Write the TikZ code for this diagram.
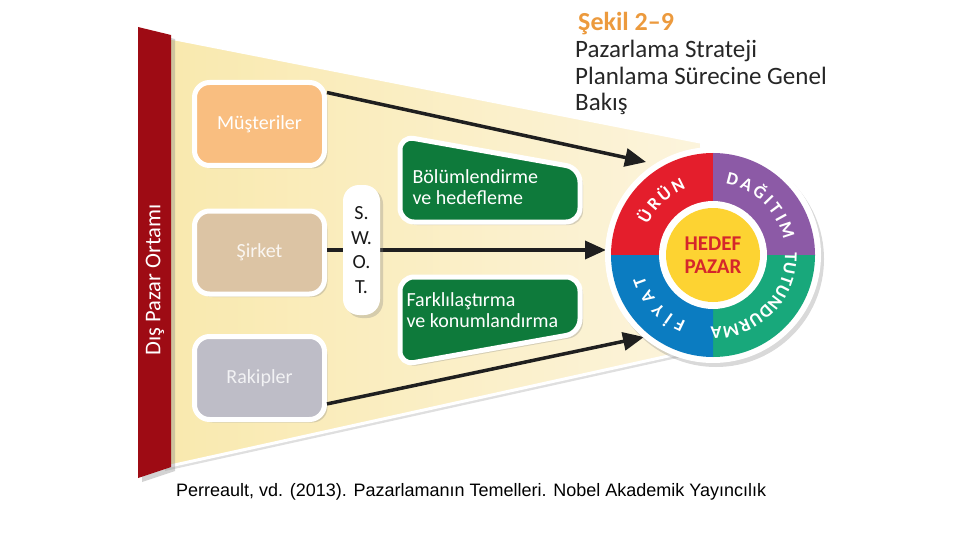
\documentclass[tikz,border=0pt]{standalone}
\usepackage{fontspec}
\setmainfont{Carlito}
\newfontfamily\capfont{Liberation Sans}
\usetikzlibrary{arrows.meta,shadows,decorations.text,positioning}

\definecolor{barred}{HTML}{9E0B14}
\definecolor{funnelL}{HTML}{F9E9AE}
\definecolor{funnelR}{HTML}{FCF4DC}
\definecolor{mustericol}{HTML}{F9BE80}
\definecolor{sirketcol}{HTML}{DCC4A4}
\definecolor{rakipcol}{HTML}{BEBDC7}
\definecolor{greenbox}{HTML}{0E7A3B}
\definecolor{urunred}{HTML}{E41E2C}
\definecolor{dagitimpurple}{HTML}{8C5AA6}
\definecolor{tutungreen}{HTML}{18A87B}
\definecolor{fiyatblue}{HTML}{0B7CC1}
\definecolor{hedefyellow}{HTML}{FDD332}
\definecolor{hedefred}{HTML}{D5262B}
\definecolor{sekilorange}{HTML}{EC9A3D}

\tikzset{
  softshadow/.style={drop shadow={shadow xshift=3pt, shadow yshift=-3pt, opacity=.3}},
  srcbox/.style={draw=white, line width=5pt, rounded corners=15pt, minimum width=130pt,
    minimum height=83pt, softshadow, font=\fontsize{20}{22}\selectfont},
  stratbox/.style={fill=greenbox, draw=white, line width=5pt, rounded corners=14pt, softshadow},
  strattext/.style={text=white, align=left, anchor=west, font=\fontsize{20}{21.5}\selectfont},
  arr/.style={line width=3.5pt, draw=black!88, -{Triangle[length=21pt,width=18pt]}},
  ringtext/.style={decorate, decoration={text along path, text align=fit to path,
    text color=white, text={|\fontsize{18}{18}\selectfont\bfseries|#1}}},
}

\begin{document}
\begin{tikzpicture}[x=1pt, y=-1pt]
\useasboundingbox (0,0) rectangle (960,540);

% funnel
\shade[left color=funnelL, right color=funnelR, drop shadow={shadow xshift=0pt, shadow yshift=-5pt, opacity=.25}]
  (165,38) -- (700,143) -- (700,348) -- (165,466) -- cycle;
\draw[white, line width=3pt] (170,38) -- (700,142);
\draw[white, line width=3pt] (170,466) -- (700,349);

% outer environment bar
\fill[barred, drop shadow={shadow xshift=4pt, shadow yshift=-4pt, opacity=.35}]
  (138,27) -- (171,35) -- (171,467) -- (138,478) -- cycle;
\node[rotate=90, text=white, font=\fontsize{22.5}{24}\selectfont] (dis) at (155,280) {Dış Pazar Ortamı};

% title
\node[anchor=base west, inner sep=0pt, text=sekilorange, font=\bfseries\fontsize{26}{28}\selectfont] (sekil) at (578,31) {Şekil 2–9};
\node[anchor=north west, align=left, text=black!85, inner sep=0pt, font=\fontsize{25}{26.5}\selectfont]
  (baslik) at (575,40) {Pazarlama Strateji\\Planlama Sürecine Genel\\Bakış};

% sources
\node[srcbox, fill=mustericol, text=white] (musteri) at (259.5,124) {Müşteriler};
\node[srcbox, fill=sirketcol, text=white!85!sirketcol] (sirket) at (259.5,252.5) {Şirket};
\node[srcbox, fill=rakipcol, text=white!80!rakipcol] (rakip) at (259.5,378) {Rakipler};

\coordinate (hedefust) at (646,162);
\coordinate (hedeforta) at (606,250);
\coordinate (hedefalt) at (644,337);
\draw[arr] (musteri.25) -- (hedefust);
\draw[arr] (sirket.east |- hedeforta) -- (hedeforta);
\draw[arr] (rakip.-21) -- (hedefalt);

% SWOT
\node[fill=white, rounded corners=16pt, minimum width=37pt, minimum height=130pt, softshadow,
  align=center, text=black!90, font=\fontsize{20}{24.5}\selectfont] (swot) at (361.5,250) {S.\\W.\\O.\\T.};

% strategy boxes
\draw[stratbox] (400,222) -- (400,136) -- (580,168) -- (580,222) -- cycle;
\node[strattext] (bolum) at (409,187) {Bölümlendirme\\ve hedefleme};
\draw[stratbox] (400,365) -- (400,277) -- (580,277) -- (580,333) -- cycle;
\node[strattext] (fark) at (403,310) {Farklılaştırma\\ve konumlandırma};

% target market wheel
\begin{scope}[shift={(713,255)}, y=1pt]
  \fill[white, drop shadow={shadow xshift=3pt, shadow yshift=-4pt, opacity=.3}] (0,0) circle[radius=108];
  \fill[urunred] (0,0) -- (180:102) arc[start angle=180, end angle=90, radius=102] -- cycle;
  \fill[dagitimpurple] (0,0) -- (90:102) arc[start angle=90, end angle=0, radius=102] -- cycle;
  \fill[tutungreen] (0,0) -- (0:102) arc[start angle=0, end angle=-90, radius=102] -- cycle;
  \fill[fiyatblue] (0,0) -- (-90:102) arc[start angle=-90, end angle=-180, radius=102] -- cycle;
  \fill[white] (0,0) circle[radius=54];
  \fill[hedefyellow] (0,0) circle[radius=47];
  \path[ringtext=ÜRÜN] (155:72) arc[start angle=155, end angle=112, radius=72];
  \path[ringtext=DAĞITIM] (80:72) arc[start angle=80, end angle=12, radius=72];
  \path[ringtext=TUTUNDURMA] (2:72) arc[start angle=2, end angle=-92, radius=72];
  \path[ringtext=FİYAT] (-112:72) arc[start angle=-112, end angle=-163, radius=72];
  \node[align=center, text=hedefred, font=\bfseries\fontsize{21}{23}\selectfont] (hedef) at (0,0) {HEDEF\\PAZAR};
\end{scope}

% source
\node[anchor=base west, inner sep=0pt, font=\capfont\fontsize{18}{20}\selectfont] (kaynak) at (176,496)
  {Perreault, vd. (2013). Pazarlamanın Temelleri. Nobel Akademik Yayıncılık};
\end{tikzpicture}
\end{document}
